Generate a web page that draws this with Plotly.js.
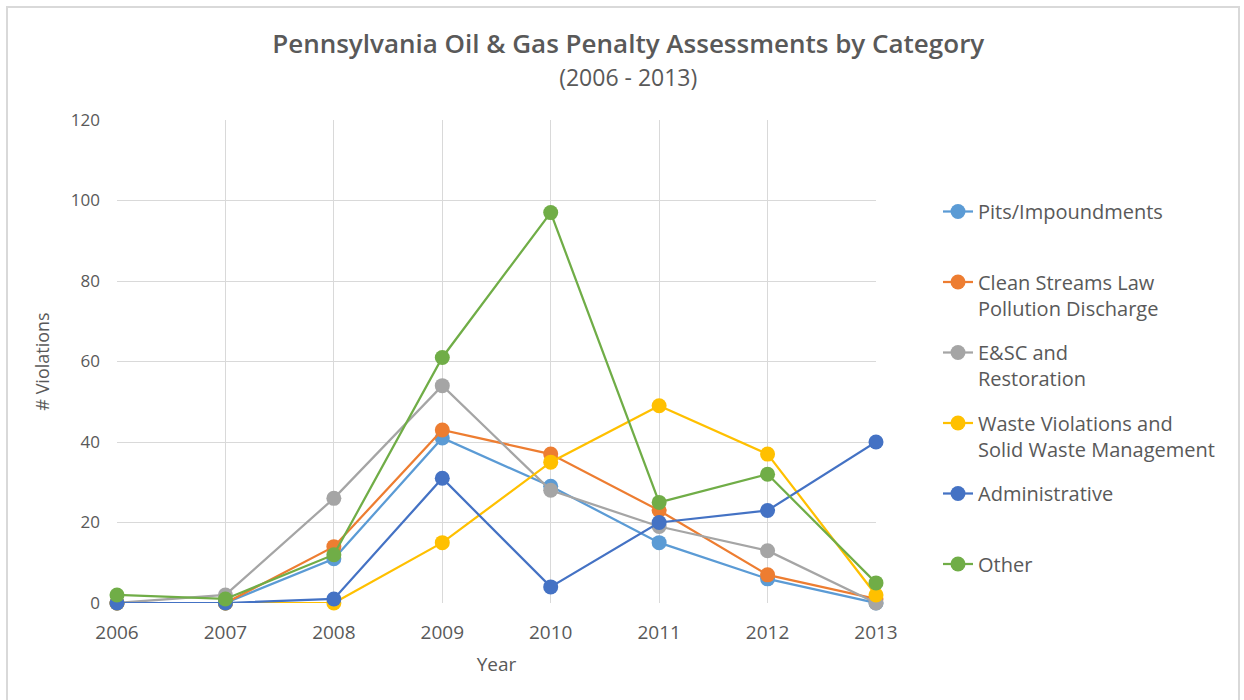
<!DOCTYPE html>
<html>
<head>
<meta charset="utf-8">
<script src="https://cdn.plot.ly/plotly-3.0.1.min.js"></script>
<style>
  html, body { margin: 0; padding: 0; background: #ffffff; }
  #frame { position: absolute; left: 6px; top: 6px; width: 1234px; height: 720px;
           border: 2px solid #d9d9d9; box-sizing: border-box; pointer-events: none; z-index: 5; }
  #chart { width: 1244px; height: 700px; }
</style>
</head>
<body>
<div id="frame"></div>
<div id="chart"></div>
<script>
const years = [2006, 2007, 2008, 2009, 2010, 2011, 2012, 2013];
const seriesNames = [
  "Pits/Impoundments<br>&nbsp;",
  "Clean Streams Law<br>Pollution Discharge",
  "E&amp;SC and<br>Restoration",
  "Waste Violations and<br>Solid Waste Management",
  "Administrative<br>&nbsp;",
  "Other<br>&nbsp;"
];
const pits          = [0, 0, 11, 41, 29, 15, 6, 0];
const cleanStreams  = [0, 0, 14, 43, 37, 23, 7, 1];
const esc           = [0, 2, 26, 54, 28, 19, 13, 0];
const waste         = [0, 0, 0, 15, 35, 49, 37, 2];
const administrative= [0, 0, 1, 31, 4, 20, 23, 40];
const other         = [2, 1, 12, 61, 97, 25, 32, 5];
const yTicks = [0, 20, 40, 60, 80, 100, 120];

const values = [pits, cleanStreams, esc, waste, administrative, other];
const colors = ["#5B9BD5", "#ED7D31", "#A5A5A5", "#FFC000", "#4472C4", "#70AD47"];

const traces = values.map((v, i) => ({
  type: "scatter",
  mode: "lines+markers",
  x: years,
  y: v,
  name: seriesNames[i],
  legendgroup: "g" + i,
  cliponaxis: false,
  line: { color: colors[i], width: 2.25 },
  marker: { color: colors[i], size: 15, line: { width: 0 } }
}));

const font = "'Open Sans', 'Noto Sans', sans-serif";
const layout = {
  width: 1244,
  height: 700,
  paper_bgcolor: "#ffffff",
  plot_bgcolor: "#ffffff",
  font: { family: font, color: "#595959", size: 18 },
  margin: { l: 117, r: 368, t: 120, b: 97 },
  title: {
    text: "Pennsylvania Oil &amp; Gas Penalty Assessments by Category<br><span style='font-size:23px;font-weight:400'>(2006 - 2013)</span>",
    font: { family: font, size: 26, color: "#595959", weight: 600 },
    x: 0.505, xanchor: "center",
    y: 0.925, yanchor: "top"
  },
  xaxis: {
    range: [2006, 2013],
    tickvals: years,
    ticktext: years.map(String),
    showgrid: true,
    gridcolor: "#d9d9d9",
    gridwidth: 1,
    zeroline: false,
    showline: false,
    ticks: "",
    ticklabelstandoff: 16,
    tickfont: { size: 19, color: "#595959" },
    title: { text: "Year", font: { size: 19, color: "#595959" }, standoff: 13 }
  },
  yaxis: {
    range: [0, 120],
    tickvals: yTicks,
    showgrid: true,
    gridcolor: "#d9d9d9",
    gridwidth: 1,
    zeroline: false,
    showline: false,
    ticks: "",
    ticklabelstandoff: 16,
    tickfont: { size: 17, color: "#595959" },
    title: { text: "# Violations", font: { size: 18, color: "#595959" }, standoff: 16 }
  },
  showlegend: true,
  legend: {
    xref: "container", yref: "container",
    x: 938 / 1244, xanchor: "left",
    y: 1 - 192 / 700, yanchor: "top",
    font: { size: 20, color: "#595959" },
    valign: "top",
    tracegroupgap: 15.5,
    maxheight: 500,
    bgcolor: "rgba(0,0,0,0)"
  }
};

Plotly.newPlot("chart", traces, layout, { displayModeBar: false, staticPlot: true });
</script>
</body>
</html>
